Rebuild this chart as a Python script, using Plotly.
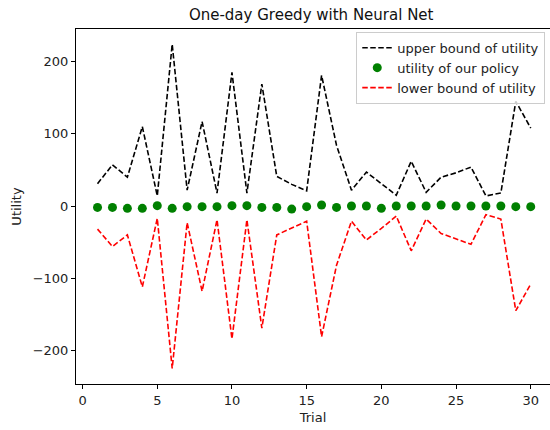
import plotly.graph_objects as go

trials = list(range(1, 31))
upper = [31, 57, 40, 110, 14, 224, 22, 117, 18, 185, 18, 169, 41, 30, 21,
         181, 84, 22, 47, 31, 15, 62, 19, 40, 46, 54, 14, 18, 145, 108]
policy = [-1.9, -1.9, -3.2, -3.2, 0.5, -3.2, -0.9, -0.9, -0.9, 0.5, 0.5, -1.9, -1.9, -4.2, -0.9,
          1.4, -1.9, 0.0, 0.0, -3.2, 0.0, 0.0, 0.0, 1.4, 0.0, 0.0, 0.0, 0.0, -0.9, -0.9]
lower = [-32, -56, -40, -112, -17, -225, -23, -118, -19, -184, -19, -169, -40, -30, -21,
         -181, -82, -21, -47, -31, -14, -62, -18, -38, -45, -53, -12, -18, -145, -108]

font = "DejaVu Sans"
fig = go.Figure()
fig.add_trace(go.Scatter(x=trials, y=upper, mode="lines", name="upper bound of utility",
                         line=dict(color="black", width=1.6, dash="5.5px,2.5px")))
fig.add_trace(go.Scatter(x=trials, y=policy, mode="markers", name="utility of our policy",
                         marker=dict(color="green", size=9)))
fig.add_trace(go.Scatter(x=trials, y=lower, mode="lines", name="lower bound of utility",
                         line=dict(color="red", width=1.6, dash="5.5px,2.5px")))

fig.update_layout(
    width=550, height=430,
    margin=dict(l=76, r=0, t=29, b=46),
    paper_bgcolor="white", plot_bgcolor="white",
    font=dict(family=font, size=13, color="#222"),
    title=dict(text="One-day Greedy with Neural Net", x=0.5658, xanchor="center",
               y=1 - 15 / 430, yanchor="middle", font=dict(size=15, color="#111")),
    showlegend=True,
    legend=dict(x=0.99, y=0.992, xanchor="right", yanchor="top",
                bgcolor="rgba(255,255,255,0.8)", bordercolor="#cccccc", borderwidth=1,
                font=dict(size=13, color="#222"), tracegroupgap=0, itemwidth=30),
    xaxis=dict(range=[-0.44, 31.29], tickvals=[0, 5, 10, 15, 20, 25, 30],
               showgrid=False, zeroline=False, showline=True, linecolor="black", linewidth=1,
               mirror=True, ticks="outside", ticklen=4, tickcolor="black",
               tickfont=dict(size=13),
               title=dict(text="Trial", font=dict(size=13), standoff=6)),
    yaxis=dict(range=[-246.5, 245.2], tickvals=[-200, -100, 0, 100, 200],
               ticktext=["\u2212200", "\u2212100", "0", "100", "200"],
               showgrid=False, zeroline=False, showline=True, linecolor="black", linewidth=1,
               ticks="outside", ticklen=4, tickcolor="black",
               tickfont=dict(size=13),
               title=dict(text="Utility", font=dict(size=13), standoff=8)),
)
fig.write_html("out.html")
